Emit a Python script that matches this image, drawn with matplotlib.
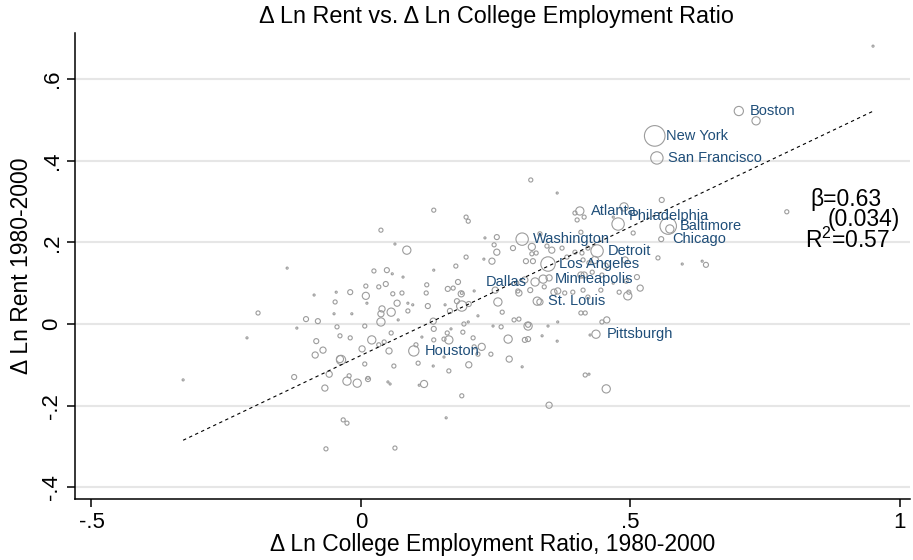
import matplotlib
matplotlib.use('Agg')
import matplotlib.pyplot as plt
import numpy as np

# labelled metro areas
city_names = ['Boston', 'New York', 'San Francisco', 'Atlanta', 'Philadelphia',
              'Baltimore', 'Chicago', 'Washington', 'Detroit', 'Los Angeles',
              'Dallas', 'Minneapolis', 'St. Louis', 'Pittsburgh', 'Houston']
city_x = [0.701, 0.545, 0.549, 0.406, 0.477, 0.570, 0.557, 0.299, 0.438, 0.347,
          0.323, 0.338, 0.327, 0.436, 0.098]
city_y = [0.522, 0.461, 0.407, 0.277, 0.245, 0.240, 0.208, 0.208, 0.179, 0.147,
          0.103, 0.110, 0.056, -0.025, -0.066]
city_w = [20, 100, 36, 16, 36, 64, 6, 36, 36, 49, 16, 16, 16, 16, 25]

# all other metro areas (x, y, weight)
other_x = [0.135, 0.195, 0.199, 0.037, 0.230, 0.252, 0.063, 0.085, 0.247, 0.252,
           0.195, 0.228, 0.243, -0.137, 0.024, 0.048, 0.058, 0.078, 0.135, 0.176,
           0.009, 0.033, 0.046, 0.122, 0.161, 0.180, 0.186, 0.187, -0.087, -0.046,
           -0.020, 0.009, 0.059, 0.076, 0.121, 0.210, -0.191, 0.067, -0.048, 0.011,
           0.039, 0.037, 0.056, 0.087, 0.096, 0.087, 0.124, 0.156, 0.178, 0.187,
           0.200, 0.165, 0.217, -0.119, -0.102, -0.080, -0.050, -0.017, -0.0445, 0.007,
           0.037, 0.069, 0.134, 0.135, 0.191, 0.199, 0.189, 0.167, 0.160, -0.083,
           -0.039, -0.020, 0.020, 0.033, 0.043, 0.056, 0.052, 0.102, 0.113, 0.135,
           0.154, 0.163, 0.208, 0.224, -0.0705, -0.085, 0.002, -0.037, -0.039, 0.007,
           0.061, 0.106, 0.134, 0.154, 0.200, 0.217, 0.241, 0.163, -0.124, -0.059,
           -0.067, -0.026, -0.007, -0.022, 0.013, 0.013, 0.050, 0.054, 0.108, 0.117,
           0.187, -0.033, -0.026, 0.158, 0.063, -0.065, -0.2115, -0.330, 0.249, 0.254,
           0.262, 0.210, 0.275, 0.299, 0.273, 0.310, 0.304, 0.336, 0.364, 0.310,
           0.310, 0.284, 0.293, 0.260, 0.245, 0.347, 0.365, 0.408, 0.416, 0.456,
           0.447, 0.425, 0.416, 0.423, 0.455, 0.349, 0.293, 0.314, 0.358, 0.365,
           0.378, 0.393, 0.412, 0.421, 0.445, 0.408, 0.414, 0.447, 0.429, 0.479,
           0.495, 0.512, 0.518, 0.492, 0.497, 0.490, 0.453, 0.551, 0.596, 0.640,
           0.633, 0.332, 0.289, 0.291, 0.304, 0.340, 0.434, 0.354, 0.317, 0.317,
           0.325, 0.306, 0.319, 0.349, 0.315, 0.364, 0.397, 0.401, 0.414, 0.408,
           0.282, 0.345, 0.373, 0.382, 0.397, 0.410, 0.412, 0.421, 0.171, 0.332,
           0.558, 0.488, 0.505, 0.573, 0.468, 0.423, 0.468, 0.733, 0.950, 0.790]
other_y = [0.279, 0.262, 0.252, 0.230, 0.211, 0.213, 0.196, 0.181, 0.194, 0.176,
           0.164, 0.159, 0.154, 0.137, 0.130, 0.132, 0.123, 0.115, 0.132, 0.142,
           0.093, 0.091, 0.098, 0.096, 0.086, 0.103, 0.074, 0.076, 0.071, 0.078,
           0.078, 0.069, 0.074, 0.076, 0.076, 0.081, 0.027, 0.051, 0.054, 0.051,
           0.037, 0.025, 0.029, 0.051, 0.047, 0.032, 0.044, 0.047, 0.056, 0.044,
           0.049, 0.032, 0.020, -0.010, 0.012, 0.007, 0.025, 0.025, -0.007, -0.005,
           0.005, 0.010, 0.007, -0.012, 0.000, 0.005, -0.020, -0.012, -0.022, -0.042,
           -0.029, -0.034, -0.039, -0.051, -0.044, -0.022, -0.066, -0.051, -0.032, -0.039,
           -0.037, -0.039, -0.034, -0.056, -0.064, -0.076, -0.061, -0.088, -0.086, -0.098,
           -0.103, -0.096, -0.103, -0.081, -0.100, -0.074, -0.074, -0.115, -0.130, -0.123,
           -0.157, -0.140, -0.145, -0.127, -0.135, -0.132, -0.142, -0.147, -0.150, -0.147,
           -0.176, -0.235, -0.243, -0.230, -0.304, -0.306, -0.034, -0.137, 0.083, 0.054,
           0.029, -0.056, -0.086, -0.105, -0.037, -0.037, -0.039, -0.029, -0.042, -0.005,
           -0.002, 0.010, 0.012, -0.007, -0.005, -0.005, 0.005, 0.027, 0.027, 0.010,
           0.005, -0.027, -0.125, -0.123, -0.159, -0.199, 0.076, 0.083, 0.078, 0.081,
           0.076, 0.078, 0.083, 0.066, 0.083, 0.120, 0.120, 0.120, 0.127, 0.078,
           0.069, 0.115, 0.088, 0.105, 0.078, 0.157, 0.142, 0.162, 0.147, 0.145,
           0.154, 0.054, 0.100, 0.081, 0.108, 0.091, 0.157, 0.181, 0.189, 0.172,
           0.174, 0.154, 0.154, 0.113, 0.353, 0.321, 0.272, 0.255, 0.262, 0.225,
           0.186, 0.191, 0.186, 0.164, 0.176, 0.174, 0.157, 0.186, 0.088, 0.221,
           0.304, 0.287, 0.223, 0.233, 0.100, 0.150, 0.262, 0.498, 0.681, 0.275]
other_w = [4, 4, 4, 4, 1, 6, 1, 16, 4, 9,
           4, 1, 9, 1, 4, 6, 1, 1, 1, 4,
           4, 4, 6, 4, 6, 6, 9, 2, 1, 1,
           6, 12, 4, 4, 4, 1, 4, 9, 4, 1,
           9, 9, 16, 1, 1, 4, 6, 1, 6, 25,
           6, 6, 1, 1, 6, 6, 1, 1, 4, 4,
           16, 1, 9, 6, 4, 1, 4, 1, 4, 6,
           4, 4, 16, 4, 4, 4, 9, 4, 1, 4,
           4, 16, 4, 12, 9, 9, 9, 20, 12, 4,
           4, 4, 1, 1, 9, 4, 4, 4, 6, 9,
           9, 16, 16, 4, 6, 2, 1, 1, 1, 12,
           4, 4, 4, 1, 4, 4, 1, 1, 9, 16,
           4, 4, 9, 1, 16, 6, 6, 1, 1, 16,
           6, 4, 4, 4, 1, 1, 1, 4, 4, 9,
           4, 1, 4, 1, 16, 9, 9, 6, 9, 9,
           4, 4, 4, 4, 4, 9, 9, 4, 4, 4,
           16, 6, 9, 4, 4, 9, 9, 4, 1, 6,
           1, 9, 4, 4, 9, 4, 12, 9, 12, 4,
           4, 6, 6, 9, 4, 1, 4, 4, 4, 4,
           6, 4, 4, 4, 4, 4, 4, 4, 4, 4,
           6, 16, 4, 16, 1, 4, 1, 16, 1, 4]

# fitted line (weighted OLS reported on the chart)
fit_beta = 0.63
fit_intercept = -0.077
stats_lines = ['\u03b2=0.63', '(0.034)', 'R$^{2}$=0.57']

x_ticks = [-0.5, 0, 0.5, 1]
x_ticklabels = ['-.5', '0', '.5', '1']
y_ticks = [-0.4, -0.2, 0, 0.2, 0.4, 0.6]
y_ticklabels = ['-.4', '-.2', '0', '.2', '.4', '.6']

# label offsets in points (right of marker by default)
label_offset = {'Philadelphia': (8, 6), 'Dallas': (-6, 0)}

plt.rcParams['font.family'] = ['Liberation Sans', 'DejaVu Sans']
plt.rcParams['mathtext.fontset'] = 'custom'
plt.rcParams['mathtext.rm'] = 'Liberation Sans'

marker_edge = '#9c9c9c'
label_color = '#1f4e79'
size_scale = 2.2

fig = plt.figure(figsize=(9.13, 5.6), dpi=100)
ax = fig.add_axes([75 / 913, 1 - 499 / 560, 835 / 913, 466 / 560])

ax.set_xlim(-0.5306, 1.0186)
ax.set_ylim(-0.4289, 0.7132)

ax.yaxis.grid(True, color='#e6e6e6', linewidth=1.5)
ax.set_axisbelow(True)

ax.scatter(other_x, other_y, s=np.array(other_w) * size_scale,
           facecolors='none', edgecolors=marker_edge, linewidths=0.8, zorder=2)
ax.scatter(city_x, city_y, s=np.array(city_w) * size_scale,
           facecolors='none', edgecolors=marker_edge, linewidths=0.8, zorder=2)

all_x = np.array(other_x + city_x)
fx = np.array([all_x.min(), all_x.max()])
ax.plot(fx, fit_intercept + fit_beta * fx, color='black', linestyle=(0, (3, 3)),
        linewidth=0.8, zorder=3)

for name, cx, cy in zip(city_names, city_x, city_y):
    off = label_offset.get(name, (8, 0))
    ax.annotate(name, (cx, cy), xytext=off, textcoords='offset points',
                ha='left' if off[0] > 0 else 'right', va='center',
                fontsize=10.5, color=label_color, zorder=4)

ax.text(0.833, 0.306, stats_lines[0], fontsize=16.5, va='center', ha='left')
ax.text(0.866, 0.255, stats_lines[1], fontsize=16.5, va='center', ha='left')
ax.text(0.824, 0.206, stats_lines[2], fontsize=16.5, va='center', ha='left')

for side in ['top', 'right']:
    ax.spines[side].set_visible(False)
for side in ['left', 'bottom']:
    ax.spines[side].set_linewidth(1.1)

ax.set_xticks(x_ticks)
ax.set_xticklabels(x_ticklabels)
ax.set_yticks(y_ticks)
ax.set_yticklabels(y_ticklabels, rotation=90, va='center')
ax.tick_params(axis='both', length=6, width=1.1, labelsize=16, pad=3)

ax.set_xlabel('\u0394 Ln College Employment Ratio, 1980-2000', fontsize=16.5, labelpad=0)
ax.set_ylabel('\u0394 Ln Rent 1980-2000', fontsize=16.5, labelpad=6)

fig.text(496 / 913, 1 - 17 / 560, '\u0394 Ln Rent vs. \u0394 Ln College Employment Ratio',
         ha='center', va='center', fontsize=16.8)

fig.savefig('out.png', dpi=100)
